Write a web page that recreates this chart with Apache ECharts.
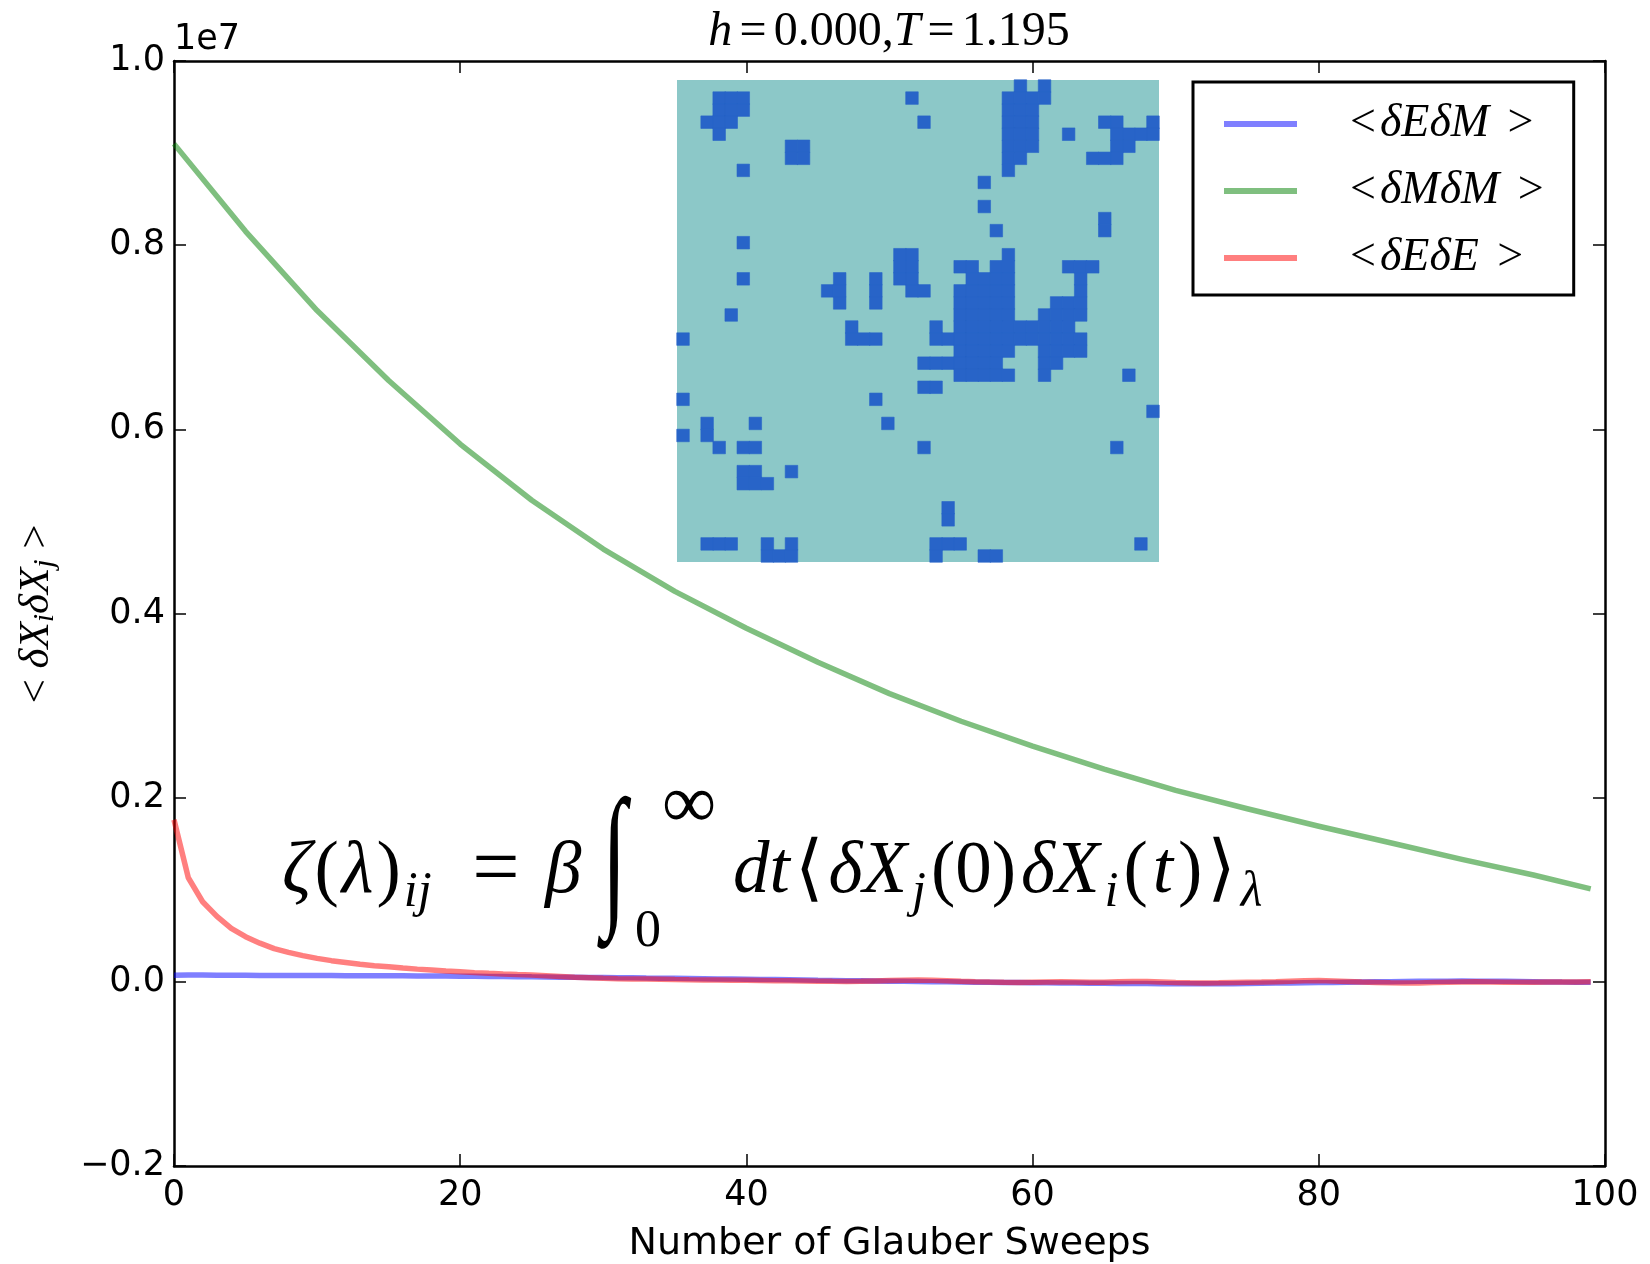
<!DOCTYPE html>
<html>
<head>
<meta charset="utf-8">
<script src="https://cdn.jsdelivr.net/npm/echarts@6/dist/echarts.min.js"></script>
<style>
  html, body { margin: 0; padding: 0; background: #ffffff; }
  #chart { width: 1650px; height: 1264px; }
</style>
</head>
<body>
<div id="chart"></div>
<script>
// ---- data -----------------------------------------------------------------
// Correlation functions vs. Glauber sweeps, values in units of 10^6.
const sweeps = Array.from({ length: 100 }, (_, i) => i);

// <dE dM>
const corrEM = [
  0.072, 0.073, 0.073, 0.072, 0.072, 0.071, 0.070, 0.070, 0.069, 0.069,
  0.068, 0.068, 0.067, 0.067, 0.066, 0.066, 0.065, 0.064, 0.063, 0.062,
  0.061, 0.060, 0.058, 0.057, 0.056, 0.054, 0.053, 0.051, 0.049, 0.047,
  0.046, 0.045, 0.043, 0.041, 0.040, 0.038, 0.036, 0.034, 0.032, 0.030,
  0.028, 0.026, 0.024, 0.022, 0.020, 0.017, 0.015, 0.013, 0.011, 0.009,
  0.007, 0.005, 0.003, 0.001, 0.000, -0.002, -0.004, -0.005, -0.007, -0.008,
  -0.010, -0.011, -0.013, -0.014, -0.015, -0.016, -0.017, -0.018, -0.019, -0.020,
  -0.021, -0.022, -0.022, -0.021, -0.020, -0.018, -0.016, -0.014, -0.012, -0.010,
  -0.008, -0.006, -0.004, -0.002, 0.000, 0.002, 0.004, 0.005, 0.006, 0.007,
  0.008, 0.007, 0.006, 0.005, 0.003, 0.001, -0.001, -0.003, -0.004, -0.005
];

// <dM dM>, sampled every 5 sweeps (plus the last one)
const sweepsMM = [0, 5, 10, 15, 20, 25, 30, 35, 40, 45, 50, 55, 60, 65, 70, 75, 80, 85, 90, 95, 99];
const corrMM = [9.10, 8.15, 7.29, 6.53, 5.84, 5.23, 4.70, 4.24, 3.84, 3.47,
                3.13, 2.83, 2.56, 2.31, 2.08, 1.88, 1.69, 1.51, 1.33, 1.16, 1.01];

// <dE dE>
const corrEE = [
  1.760, 1.130, 0.870, 0.710, 0.580, 0.490, 0.420, 0.360, 0.320, 0.285,
  0.255, 0.230, 0.210, 0.190, 0.175, 0.164, 0.150, 0.138, 0.128, 0.118,
  0.110, 0.100, 0.092, 0.085, 0.079, 0.074, 0.066, 0.058, 0.050, 0.044,
  0.038, 0.034, 0.032, 0.030, 0.027, 0.024, 0.022, 0.021, 0.020, 0.018,
  0.017, 0.015, 0.013, 0.011, 0.009, 0.007, 0.005, 0.004, 0.006, 0.010,
  0.014, 0.018, 0.020, 0.017, 0.012, 0.006, 0.001, -0.003, -0.005, -0.006,
  -0.004, -0.002, 0.000, -0.002, -0.005, -0.004, 0.000, 0.004, 0.003, -0.001,
  -0.006, -0.010, -0.012, -0.011, -0.008, -0.005, -0.003, 0.000, 0.006, 0.012,
  0.014, 0.010, 0.004, -0.002, -0.006, -0.010, -0.013, -0.012, -0.008, -0.004,
  -0.002, 0.000, -0.002, -0.004, -0.005, -0.004, -0.003, -0.002, -0.001, 0.000
];

const seriesNames = ['<δEδM>', '<δMδM>', '<δEδE>'];
const xTicks = [0, 20, 40, 60, 80, 100];
const yTicks = [-2, 0, 2, 4, 6, 8, 10];   // shown divided by 10 with a 1e7 offset

// Spin configuration snapshot, 40 x 40 ('#' = down spin)
const spins = [
  '............................#.#.........',
  '...###.............#.......####.........',
  '...###.....................###..........',
  '..###...............#......###.....##..#',
  '...#.......................###..#...####',
  '.........##................###......##..',
  '.........##................##.....###...',
  '.....#.....................#............',
  '.........................#..............',
  '........................................',
  '.........................#..............',
  '...................................#....',
  '..........................#........#....',
  '.....#..................................',
  '..................##.......#............',
  '..................##...##.##....###.....',
  '.....#.......#..#.##....####.....#......',
  '............##..#..##..#####.....#......',
  '.............#..#......#####...###......',
  '....#..................#####..####......',
  '..............#......#.##########.......',
  '#.............###....#############......',
  '.......................#####..####......',
  '....................#######...##........',
  '.......................#####..#......#..',
  '....................##..................',
  '#...............#.......................',
  '.......................................#',
  '..#...#..........#......................',
  '#.#.....................................',
  '...#.##.............#...............#...',
  '........................................',
  '.....##..#..............................',
  '.....###................................',
  '........................................',
  '......................#.................',
  '......................#.................',
  '........................................',
  '..###..#.#...........###..............#.',
  '.......###...........#...##.............'
];

// ---- styles ---------------------------------------------------------------
const SERIF = "'Liberation Serif', 'DejaVu Serif', serif";
const SANS = "'DejaVu Sans', sans-serif";
const colEM = 'rgba(0, 0, 255, 0.5)';
const colMM = 'rgba(0, 128, 0, 0.5)';
const colEE = 'rgba(255, 0, 0, 0.5)';
const spinUp = '#8cc8c8';
const spinDown = '#2864c8';

const plot = { left: 174, top: 61, width: 1431, height: 1105 };
const inset = { left: 677, top: 80, width: 482, height: 482 };

function mathRich(size, subSize, subShift, gap) {
  const g = gap || 0;
  return {
    it: { fontFamily: SERIF, fontStyle: 'italic', fontSize: size, color: '#000', padding: [0, g, 0, 0] },
    rm: { fontFamily: SERIF, fontSize: size, color: '#000', padding: [0, g, 0, 0] },
    eq: { fontFamily: SERIF, fontSize: size, color: '#000', padding: [0, g + size * 0.15, 0, size * 0.15] },
    sub: { fontFamily: SERIF, fontStyle: 'italic', fontSize: subSize, color: '#000', padding: [subShift * 2, g, 0, 0] },
    rsub: { fontFamily: SERIF, fontSize: subSize, color: '#000', padding: [subShift * 2, g, 0, 0] }
  };
}

// heatmap cells
const spinCells = [];
spins.forEach((row, r) => {
  for (let c = 0; c < row.length; c++) {
    if (row[c] === '#') spinCells.push([c, r, 1]);
  }
});
const spinIdx = Array.from({ length: 40 }, (_, i) => i);

const tickStyle = { show: true, inside: true, length: 12, lineStyle: { color: '#000', width: 1.5 } };
const lineAxis = { show: true, onZero: false, lineStyle: { color: '#000', width: 2.5 } };

const chart = echarts.init(document.getElementById('chart'), null, { renderer: 'canvas' });

const eqRich = mathRich(73, 50, 20, 0);
const eqRichWide = mathRich(73, 50, 20, 5);
const eqY = 873;

chart.setOption({
  animation: false,
  backgroundColor: '#ffffff',
  grid: [
    Object.assign({ outerBoundsMode: 'none', containLabel: false, show: false }, plot),
    Object.assign({ outerBoundsMode: 'none', containLabel: false, show: true, backgroundColor: spinUp, borderWidth: 0 }, inset)
  ],
  xAxis: [
    {
      gridIndex: 0, type: 'value', min: xTicks[0], max: xTicks[xTicks.length - 1], interval: 20,
      position: 'bottom',
      axisLine: lineAxis, axisTick: tickStyle, splitLine: { show: false },
      axisLabel: { show: true, color: '#000', fontFamily: SANS, fontSize: 35, margin: 12 },
      name: 'Number of Glauber Sweeps', nameLocation: 'middle', nameGap: 59,
      nameTextStyle: { color: '#000', fontFamily: SANS, fontSize: 38 }
    },
    {
      gridIndex: 0, type: 'value', min: xTicks[0], max: xTicks[xTicks.length - 1], interval: 20,
      position: 'top',
      axisLine: lineAxis, axisTick: tickStyle, splitLine: { show: false }, axisLabel: { show: false }
    },
    {
      gridIndex: 1, type: 'category', data: spinIdx, show: false
    }
  ],
  yAxis: [
    {
      gridIndex: 0, type: 'value', min: yTicks[0], max: yTicks[yTicks.length - 1], interval: 2,
      position: 'left',
      axisLine: lineAxis, axisTick: tickStyle, splitLine: { show: false },
      axisLabel: {
        show: true, color: '#000', fontFamily: SANS, fontSize: 35, margin: 9,
        formatter: v => { const s = Math.abs(v / 10).toFixed(1); return v < 0 ? '\u2212' + s : s; }
      }
    },
    {
      gridIndex: 0, type: 'value', min: yTicks[0], max: yTicks[yTicks.length - 1], interval: 2,
      position: 'right',
      axisLine: lineAxis, axisTick: tickStyle, splitLine: { show: false }, axisLabel: { show: false }
    },
    {
      gridIndex: 1, type: 'category', data: spinIdx, inverse: true, show: false
    }
  ],
  legend: {
    data: seriesNames,
    orient: 'vertical',
    left: 1193, top: 82,
    padding: [19, 30, 14, 31],
    itemGap: 21,
    itemWidth: 73, itemHeight: 6,
    icon: 'rect',
    borderColor: '#000', borderWidth: 3, borderRadius: 0,
    backgroundColor: '#ffffff',
    selectedMode: false,
    formatter: name => '{rm|<}{it|' + name.slice(1, -1) + '}{rm|\u2009\u2009>}',
    textStyle: {
      padding: [0, 0, 0, 48],
      lineHeight: 44,
      rich: {
        it: { fontFamily: SERIF, fontStyle: 'italic', fontSize: 46, color: '#000', lineHeight: 44, padding: [0, 0, 0, 4] },
        rm: { fontFamily: SERIF, fontSize: 46, color: '#000', lineHeight: 44 }
      }
    }
  },
  visualMap: { show: false, type: 'piecewise', seriesIndex: 3, pieces: [{ value: 1, color: spinDown }] },
  series: [
    {
      name: seriesNames[0], type: 'line', xAxisIndex: 0, yAxisIndex: 0,
      data: sweeps.map((s, i) => [s, corrEM[i]]),
      showSymbol: false, symbol: 'none', lineStyle: { color: colEM, width: 5.5 }, itemStyle: { color: colEM }, z: 2
    },
    {
      name: seriesNames[1], type: 'line', xAxisIndex: 0, yAxisIndex: 0,
      data: sweepsMM.map((s, i) => [s, corrMM[i]]),
      showSymbol: false, symbol: 'none', lineStyle: { color: colMM, width: 5.5, join: 'round' }, itemStyle: { color: colMM }, z: 3
    },
    {
      name: seriesNames[2], type: 'line', xAxisIndex: 0, yAxisIndex: 0,
      data: sweeps.map((s, i) => [s, corrEE[i]]),
      showSymbol: false, symbol: 'none', lineStyle: { color: colEE, width: 5.5 }, itemStyle: { color: colEE }, z: 4
    },
    {
      name: 'spins', type: 'heatmap', xAxisIndex: 2, yAxisIndex: 2,
      data: spinCells,
      itemStyle: { borderColor: spinDown, borderWidth: 0.6 },
      emphasis: { disabled: true }, z: 5
    }
  ],
  graphic: [
    { type: 'text', x: 174, y: 40, style: { text: '1e7', fontFamily: SANS, fontSize: 35, fill: '#000', align: 'left', verticalAlign: 'middle' } },
    {
      type: 'text', x: 889, y: 32,
      style: { text: '{it|h}{eq|=}{rm|0.000,}{it|T}{eq|=}{rm|1.195}', rich: mathRich(48, 32, 6, 0), align: 'center', verticalAlign: 'middle' }
    },
    {
      type: 'text', x: 37, y: 614, rotation: Math.PI / 2,
      style: { text: '{rm|< }{it|δX}{sub|i}{it|δX}{sub|j}{rm| >}', rich: mathRich(43, 30, 8, 0), align: 'center', verticalAlign: 'middle' }
    },
    // zeta = beta * integral of the correlation function
    { type: 'text', x: 282, y: eqY, style: { text: '{it|ζ}{rm|(}{it|λ}{rm|)}{sub|ij}', rich: mathRich(73, 50, 20, 3), align: 'left', verticalAlign: 'middle' } },
    { type: 'text', x: 496, y: eqY, style: { text: '=', fontFamily: SERIF, fontSize: 84, fill: '#000', align: 'center', verticalAlign: 'middle' } },
    { type: 'text', x: 545, y: eqY, style: { text: '{it|β}', rich: eqRich, align: 'left', verticalAlign: 'middle' } },
    // tall thin integral sign: a regular glyph stretched vertically
    { type: 'text', x: 602, y: 866, scaleX: 1.15, scaleY: 2.0, style: { text: '∫', fontFamily: SERIF, fontStyle: 'italic', fontSize: 78, fill: '#000', align: 'left', verticalAlign: 'middle' } },
    { type: 'text', x: 662, y: 807, style: { text: '∞', fontFamily: SERIF, fontSize: 76, fill: '#000', align: 'left', verticalAlign: 'middle' } },
    { type: 'text', x: 635, y: 932, style: { text: '0', fontFamily: SERIF, fontSize: 52, fill: '#000', align: 'left', verticalAlign: 'middle' } },
    { type: 'text', x: 733, y: eqY, style: { text: '{it|dt}', rich: eqRich, align: 'left', verticalAlign: 'middle' } },
    {
      type: 'text', x: 795, y: eqY,
      style: { text: '{rm|\u27e8}{it|δX}{sub|j}{rm|(0)}{it|δX}{sub|i}{rm|(}{it|t}{rm|)}{rm|\u27e9}{sub|λ}', rich: eqRichWide, align: 'left', verticalAlign: 'middle' }
    }
  ]
});
</script>
</body>
</html>
